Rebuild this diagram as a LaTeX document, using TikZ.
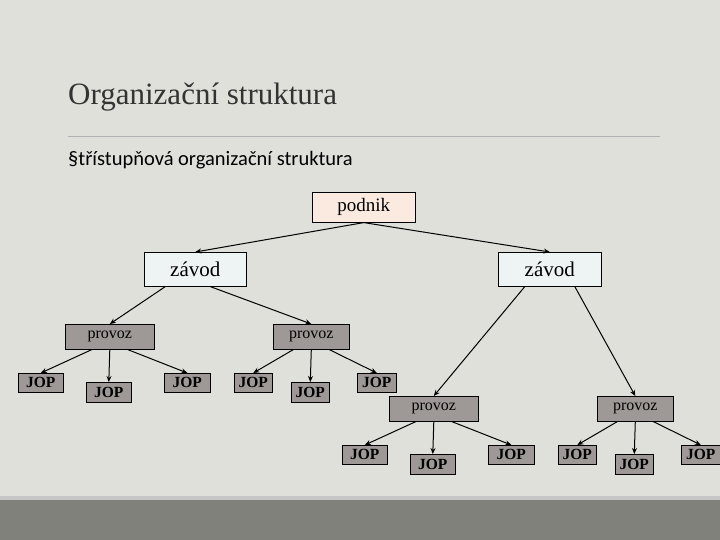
\documentclass[tikz,border=0pt]{standalone}
\usepackage{fontspec}
\setmainfont{Liberation Serif}
\newfontfamily\carl{Carlito}
\usetikzlibrary{arrows.meta}
\definecolor{bg}{HTML}{E0E0DB}
\definecolor{band}{HTML}{80817B}
\definecolor{peach}{HTML}{FBEAE0}
\definecolor{pale}{HTML}{EEF3F3}
\definecolor{gbox}{HTML}{9E9896}
\begin{document}
\begin{tikzpicture}[x=1pt,y=-1pt,
  bx/.style={draw=black,line width=0.6pt,inner sep=0,anchor=north west},
  arr/.style={-{Stealth[length=6pt,width=5pt]},line width=1pt},
  jop/.style={bx,fill=gbox,font=\fontsize{15.5}{15.5}\selectfont\bfseries}]
\useasboundingbox (0,0) rectangle (720,540);
\fill[bg] (0,0) rectangle (720,540);
\fill[gray!45] (0,496) rectangle (720,500);
\fill[band] (0,500) rectangle (720,540);
\node[anchor=west,inner sep=0,font=\fontsize{31}{31}\selectfont,text=black!80] (title) at (68,97) {Organizační struktura};
\draw[gray!60,line width=0.8pt] (68,136) -- (660,136);
\node[anchor=west,font=\carl\fontsize{20.5}{20.5}\selectfont,inner sep=0] (sub) at (68,160) {§třístupňová organizační struktura};
% boxes
\node[bx,fill=peach,minimum width=103,minimum height=30,font=\fontsize{19}{19}\selectfont] (p) at (312,192) {podnik};
\node[bx,fill=pale,minimum width=102,minimum height=34,font=\fontsize{21}{21}\selectfont] (z1) at (144,252) {závod};
\node[bx,fill=pale,minimum width=103,minimum height=34,font=\fontsize{21}{21}\selectfont] (z2) at (498,252) {závod};
\tikzset{pv/.style={bx,fill=gbox,minimum height=25,font=\fontsize{16}{16}\selectfont}}
\node[pv,minimum width=89] (v1) at (65,324) {provoz};
\node[pv,minimum width=76] (v2) at (273,324) {provoz};
\node[pv,minimum width=89] (v3) at (389,396) {provoz};
\node[pv,minimum width=76] (v4) at (597,396) {provoz};
\node[jop,minimum width=45,minimum height=19] (j1) at (18,373) {JOP};
\node[jop,minimum width=45,minimum height=20] (j2) at (86,382) {JOP};
\node[jop,minimum width=46,minimum height=19] (j3) at (164,373) {JOP};
\node[jop,minimum width=38,minimum height=19] (j4) at (234,373) {JOP};
\node[jop,minimum width=38,minimum height=20] (j5) at (291,382) {JOP};
\node[jop,minimum width=39,minimum height=19] (j6) at (357,373) {JOP};
\node[jop,minimum width=45,minimum height=19] (k1) at (342,445) {JOP};
\node[jop,minimum width=45,minimum height=20] (k2) at (410,454) {JOP};
\node[jop,minimum width=46,minimum height=19] (k3) at (488,445) {JOP};
\node[jop,minimum width=38,minimum height=19] (k4) at (558,445) {JOP};
\node[jop,minimum width=38,minimum height=20] (k5) at (615,454) {JOP};
\node[jop,minimum width=39,minimum height=19] (k6) at (681,445) {JOP};
% arrows
\draw[arr] (p.south) -- (z1.north);
\draw[arr] (p.south) -- (z2.north);
\draw[arr] ([xshift=-30]z1.south) -- (v1.north);
\draw[arr] ([xshift=15]z1.south) -- (v2.north);
\draw[arr] ([xshift=-25]z2.south) -- (v3.north);
\draw[arr] ([xshift=25]z2.south) -- (v4.north);
\foreach \v/\a/\b/\c in {v1/j1/j2/j3,v2/j4/j5/j6,v3/k1/k2/k3,v4/k4/k5/k6}{
  \draw[arr] ([xshift=-18]\v.south) -- (\a.north);
  \draw[arr] (\v.south) -- (\b.north);
  \draw[arr] ([xshift=18]\v.south) -- (\c.north);
}
\end{tikzpicture}
\end{document}
